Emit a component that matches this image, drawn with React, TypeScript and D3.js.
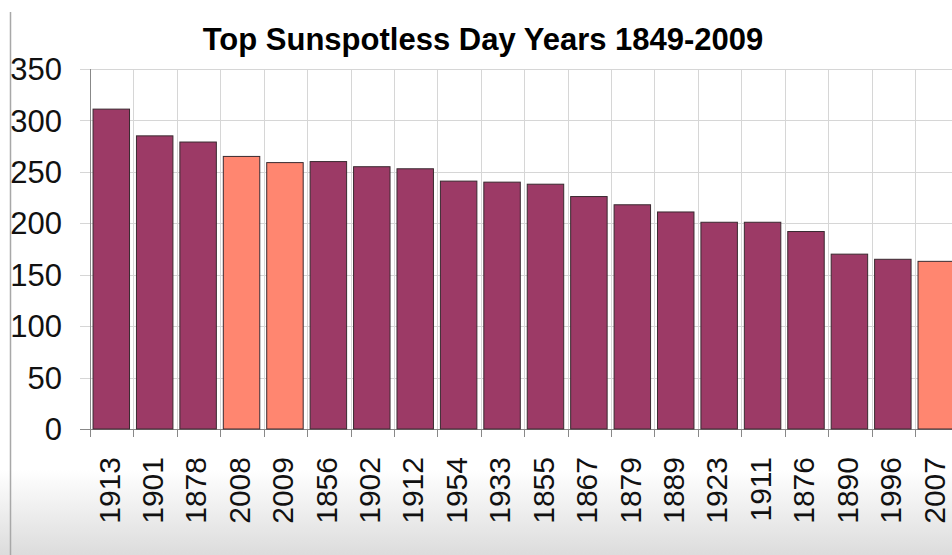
import React from "react";
import * as d3 from "d3";

const years = ["1913","1901","1878","2008","2009","1856","1902","1912","1954","1933","1855","1867","1879","1889","1923","1911","1876","1890","1996","2007"];
const spotlessDays = [311,285,279,265,259,260,255,253,241,240,238,226,218,211,201,201,192,170,165,163];
const recentYears = ["2008","2009","2007"];
const yTicks = [0,50,100,150,200,250,300,350];
const title = "Top Sunspotless Day Years 1849-2009";

const W = 952, H = 555;
const left = 90, top = 69, bottom = 429;
const step = 43.42;

export default function App() {
  const x = d3.scaleBand<string>().domain(years).range([left, left + step * years.length]).padding(0);
  const y = d3.scaleLinear().domain([0, 350]).range([bottom, top]);
  const bw = x.bandwidth();
  const font = "'Liberation Sans', Arial, sans-serif";
  const boundaries = years.map((yr) => x(yr)!);
  return (
    <svg width={W} height={H} style={{ position: "absolute", left: 0, top: 0, background: "#fff" }}>
      <defs>
        <linearGradient id="bg" x1="0" y1="0" x2="0" y2="1">
          <stop offset="0" stopColor="#ffffff" />
          <stop offset="1" stopColor="#dcdcdc" />
        </linearGradient>
      </defs>
      <rect x={0} y={0} width={W} height={H} fill="#fff" />
      <rect x={0} y={470} width={W} height={H - 470} fill="url(#bg)" />
      <line x1={10.5} x2={10.5} y1={12} y2={H} stroke="#a8a8a8" strokeWidth={1.5} />
      {yTicks.map((t) => (
        <line key={"h" + t} x1={80} x2={W} y1={Math.round(y(t)) + 0.5} y2={Math.round(y(t)) + 0.5} stroke={t === 0 ? "#888" : "#d6d6d6"} strokeWidth={1} />
      ))}
      {boundaries.slice(1).map((bx, i) => (
        <line key={"v" + i} x1={Math.round(bx) + 0.5} x2={Math.round(bx) + 0.5} y1={top} y2={bottom} stroke="#d6d6d6" />
      ))}
      {years.map((yr, i) => (
        <rect key={yr} x={x(yr)! + bw * 0.07} y={y(spotlessDays[i])} width={bw * 0.84} height={bottom - y(spotlessDays[i])}
          fill={recentYears.includes(yr) ? "#ff8670" : "#9c3a66"} stroke="#3a2a30" strokeWidth={1} />
      ))}
      <line x1={left + 0.5} x2={left + 0.5} y1={top} y2={bottom + 8} stroke="#888" />
      {boundaries.map((bx, i) => (
        <line key={"xt" + i} x1={Math.round(bx) + 0.5} x2={Math.round(bx) + 0.5} y1={bottom} y2={bottom + 8} stroke="#888" />
      ))}
      {yTicks.map((t) => (
        <text key={"yl" + t} x={62} y={y(t)} dy="0.36em" textAnchor="end" fontFamily={font} fontSize={31} fill="#111">{t}</text>
      ))}
      {years.map((yr) => (
        <text key={"xl" + yr} transform={`translate(${x(yr)! + bw / 2 - 3},457) rotate(-90)`} dy="0.36em" textAnchor="end" fontFamily={font} fontSize={30} fill="#111">{yr}</text>
      ))}
      <text x={483} y={50} textAnchor="middle" fontFamily={font} fontWeight="bold" fontSize={31} fill="#000">{title}</text>
    </svg>
  );
}
